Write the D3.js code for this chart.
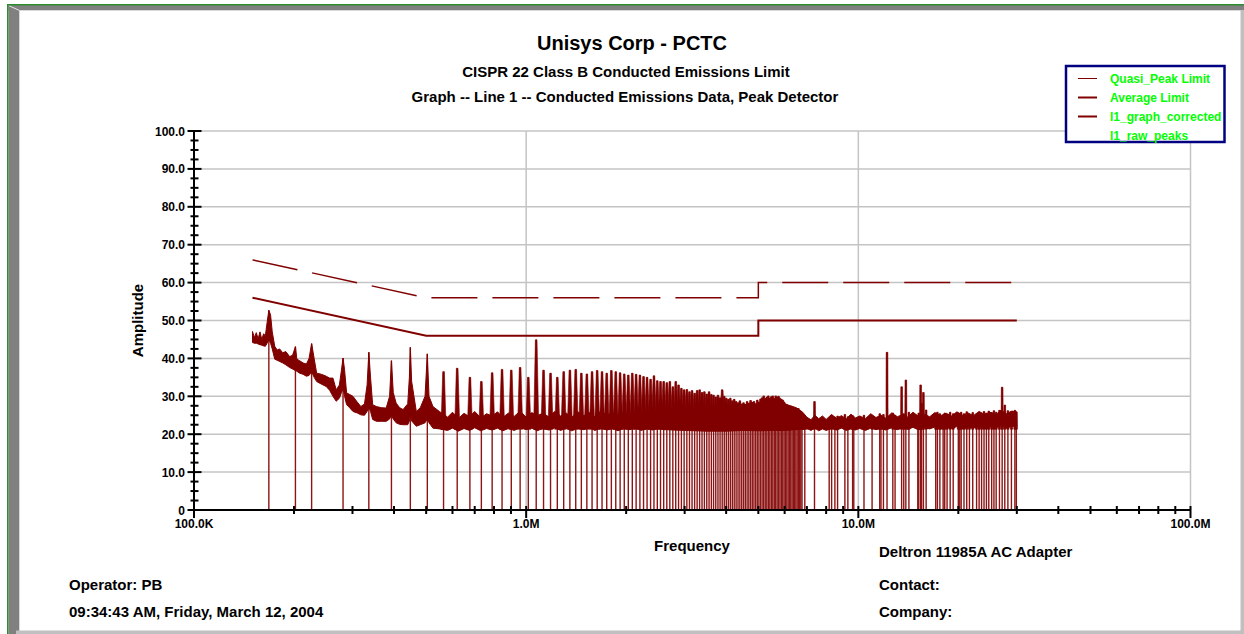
<!DOCTYPE html>
<html>
<head>
<meta charset="utf-8">
<script src="https://cdn.jsdelivr.net/npm/d3@7"></script>
<style>
body { margin: 0; background: #fff; }
text { font-family: Arial, "Liberation Sans", sans-serif; font-weight: bold; }
</style>
</head>
<body>
<svg id="chart" width="1244" height="634"></svg>
<script>

// limit lines, frequency in MHz, level in dBuV
var qpF = [0.15, 0.5, 5, 5, 30],
    qpV = [66, 56, 56, 60, 60];
var avF = [0.15, 0.5, 5, 5, 30],
    avV = [56, 46, 46, 50, 50];

// l1_graph_corrected: noise floor envelope (low / high edge)
var traceF = [0.150, 0.152, 0.154, 0.156, 0.158, 0.160, 0.162, 0.164, 0.166, 0.168, 0.170, 0.172, 0.175, 0.178,
    0.181, 0.185, 0.189, 0.194, 0.198, 0.202, 0.204, 0.208, 0.213, 0.218, 0.222, 0.226, 0.230, 0.234, 0.242,
    0.250, 0.256, 0.262, 0.268, 0.274, 0.278, 0.281, 0.284, 0.288, 0.294, 0.301, 0.310, 0.318, 0.326, 0.332,
    0.336, 0.340, 0.345, 0.354, 0.366, 0.379, 0.388, 0.393, 0.398, 0.406, 0.416, 0.426, 0.440, 0.445, 0.448,
    0.452, 0.467, 0.480, 0.496, 0.504, 0.510, 0.524, 0.548,
    0.58, 0.60, 0.625, 0.65, 0.675, 0.70, 0.73, 0.76, 0.79, 0.82, 0.85, 0.885, 0.92, 0.96, 1.0, 1.04, 1.08, 1.12,
    1.17, 1.22, 1.27, 1.32, 1.37, 1.43, 1.49, 1.55, 1.61, 1.68, 1.75, 1.82, 1.89, 1.97, 2.05, 2.13, 2.22, 2.31,
    2.40, 2.50, 2.60, 3.0, 3.5, 4.0, 4.5, 5.0, 5.5, 6.0, 6.5, 6.8,
    7.0, 7.2, 7.4, 7.6, 7.8, 8.0, 8.3, 8.6, 8.9, 9.2, 9.5, 9.8, 10.1, 10.5, 10.9, 11.3, 11.7, 12.1, 12.6, 13.1,
    13.6, 14.1, 14.6, 15.2, 15.8, 16.4, 17.0, 17.7, 18.4, 19.1, 19.8, 20.6, 21.4, 22.2, 23.1, 24.0, 24.9, 25.9,
    26.9, 27.9, 29.0, 30.0];
var traceLo = [44.2, 44.0, 44.0, 43.8, 43.6, 43.5, 43.3, 43.2, 44.0, 45.0, 44.0, 42.5, 39.8, 39.5,
    39.2, 38.8, 38.3, 37.6, 37.2, 36.8, 36.6, 36.1, 35.8, 35.3, 35.5, 36.5, 35.0, 33.9, 33.2,
    32.6, 31.6, 30.0, 28.7, 29.5, 31.0, 32.0, 30.0, 27.8, 27.0, 26.0, 25.6, 25.1, 25.0, 26.0,
    27.0, 26.0, 23.9, 23.4, 23.4, 23.4, 24.0, 25.0, 24.0, 23.0, 22.6, 22.5, 22.5, 23.5, 25.0,
    23.5, 22.1, 22.5, 23.0, 24.0, 23.0, 21.6, 21.4,
    21.0, 21.6, 20.8, 21.5, 21.0, 21.7, 20.9, 21.5, 21.1, 21.6, 20.9, 21.5, 21.0, 21.7, 21.2, 21.6, 20.9, 21.5,
    21.1, 21.7, 21.0, 21.6, 20.9, 21.5, 21.2, 21.7, 21.0, 21.6, 21.1, 21.5, 20.9, 21.6, 21.2, 21.7, 21.0, 21.5,
    21.1, 21.6, 21.2, 21.0, 20.8, 20.8, 21.0, 20.9, 21.0, 21.0, 21.2, 21.3,
    21.5, 21.0, 21.6, 20.9, 21.4, 21.0, 21.5, 21.1, 21.6, 21.0, 21.4, 21.1, 21.5, 21.0, 21.6, 21.2, 21.5, 21.1, 21.7, 21.2,
    21.6, 21.3, 21.8, 21.2, 21.7, 21.4, 21.9, 21.3, 21.8, 21.5, 22.0, 21.4, 21.9, 21.6, 22.1, 21.5, 22.0, 21.7,
    22.2, 21.6, 22.1, 22.0];
var traceHi = [47.1, 45.5, 46.8, 45.2, 47.0, 45.0, 46.5, 46.0, 49.5, 52.7, 51.5, 47.0, 43.2, 42.2,
    42.5, 41.5, 41.8, 40.5, 40.8, 43.1, 39.8, 39.4, 38.8, 38.5, 40.0, 43.9, 40.0, 36.1, 35.8,
    35.3, 34.8, 34.8, 31.7, 33.0, 37.0, 40.1, 37.0, 30.9, 30.5, 30.0, 28.5, 27.3, 28.0, 33.0,
    41.6, 35.0, 27.8, 27.3, 27.0, 26.9, 30.0, 39.4, 31.0, 28.2, 27.0, 26.5, 28.0, 35.0, 42.9,
    34.0, 26.0, 27.0, 30.0, 41.2, 30.0, 27.3, 26.0,
    24.5, 25.8, 24.2, 25.5, 24.6, 26.0, 24.3, 25.4, 24.8, 25.9, 24.4, 25.6, 24.7, 26.1, 24.5, 25.7, 24.9, 25.5,
    24.6, 26.0, 24.8, 25.6, 24.4, 25.9, 24.9, 25.7, 24.6, 26.2, 25.0, 25.8, 24.7, 26.0, 25.1, 25.9, 24.8, 26.3,
    25.2, 26.0, 26.0, 26.5, 27.0, 27.5, 27.8, 28.0, 28.5, 28.0, 27.0, 25.8,
    24.5, 23.8, 25.0, 24.1, 24.8, 23.9, 25.2, 24.2, 24.9, 24.0, 25.3, 24.3, 24.8, 24.1, 25.4, 24.4, 25.0, 24.2, 25.6, 24.6,
    25.2, 24.5, 25.8, 24.7, 25.3, 24.6, 25.7, 24.9, 25.5, 24.8, 25.9, 25.0, 25.6, 24.9, 26.0, 25.2, 25.8, 25.1,
    26.3, 25.4, 26.1, 25.8];

// l1_raw_peaks below 0.55 MHz
var lowRawF = [0.168, 0.202, 0.226, 0.281, 0.336, 0.393, 0.448, 0.504],
    lowRawA = [52.7, 43.1, 43.9, 40.1, 41.6, 39.4, 42.9, 41.2];

// switching harmonics 0.56 - 6.8 MHz (peak frequency, peak level)
var harmF = [0.564, 0.620, 0.677, 0.733, 0.790, 0.846, 0.902, 0.959, 1.015, 1.072,
    1.128, 1.184, 1.241, 1.297, 1.354, 1.410, 1.466, 1.523, 1.579, 1.636,
    1.692, 1.748, 1.805, 1.861, 1.918, 1.974, 2.030, 2.087, 2.143, 2.200,
    2.256, 2.312, 2.369, 2.425, 2.482, 2.538, 2.594, 2.651, 2.707, 2.764,
    2.820, 2.876, 2.933, 2.989, 3.046, 3.102, 3.158, 3.215, 3.271, 3.328,
    3.384, 3.440, 3.497, 3.553, 3.610, 3.666, 3.722, 3.779, 3.835, 3.892,
    3.948, 4.004, 4.061, 4.117, 4.174, 4.230, 4.286, 4.343, 4.399, 4.456,
    4.512, 4.568, 4.625, 4.681, 4.738, 4.794, 4.850, 4.907, 4.963, 5.020,
    5.076, 5.132, 5.189, 5.245, 5.302, 5.358, 5.414, 5.471, 5.527, 5.584,
    5.640, 5.696, 5.753, 5.809, 5.866, 5.922, 5.978, 6.035, 6.091, 6.148,
    6.204, 6.260, 6.317, 6.373, 6.430, 6.486, 6.542, 6.599, 6.655, 6.712, 6.768];
var harmA = [36.5, 37.4, 35.0, 33.9, 36.2, 37.1, 36.9, 37.6, 35.0, 44.9,
    36.9, 36.1, 35.0, 36.5, 36.9, 37.1, 36.1, 35.9, 36.5, 36.8,
    36.5, 36.1, 36.8, 36.5, 36.2, 35.9, 35.6, 36.1, 35.8, 35.6,
    35.2, 35.0, 34.5, 35.4, 34.1, 33.9, 33.9, 33.6, 33.9, 32.5,
    33.9, 33.0, 32.1, 31.7, 31.8, 31.2, 31.5, 30.8, 31.5, 31.7,
    31.0, 31.2, 30.6, 31.2, 30.5, 30.3, 29.8, 30.3, 29.6, 31.7,
    30.0, 29.5, 29.2, 29.5, 28.8, 29.2, 28.6, 28.3, 28.8, 28.0,
    28.3, 27.8, 28.6, 28.2, 28.9, 28.4, 28.6, 28.0, 29.0, 28.5,
    29.3, 29.6, 30.1, 29.4, 29.8, 30.1, 29.5, 29.9, 30.1, 29.4,
    30.1, 29.8, 30.0, 29.5, 29.2, 29.0, 28.5, 28.0, 27.8, 27.5,
    27.2, 27.4, 26.9, 27.1, 26.7, 26.8, 26.5, 26.8, 26.2, 25.9, 25.6];

// raw peaks above 6.8 MHz
var hfRawF = [6.90, 7.38, 8.17, 8.31, 8.50, 8.66, 9.11, 9.30, 9.61, 9.69,
    10.4, 11.0, 11.6, 11.7, 11.9, 12.2, 12.7, 12.9, 13.5, 13.7, 13.9, 14.2,
    15.1, 15.2, 15.4, 15.5, 15.7, 16.0, 17.1, 17.3, 17.6, 18.0, 18.2, 18.5, 18.9, 19.3,
    20.0, 20.2, 20.4, 20.8, 21.2, 21.6, 22.1, 22.7, 23.1, 23.5, 23.9, 24.3, 24.7,
    25.2, 25.6, 26.0, 26.6, 27.1, 27.6, 28.2, 28.9, 29.6, 29.9];
var hfRawA = [24.5, 28.6, 24.0, 25.0, 24.5, 24.8, 25.2, 24.6, 24.9, 24.2,
    25.0, 24.6, 25.4, 24.8, 25.2, 41.6, 25.6, 25.0, 32.5, 25.4, 34.3, 25.8,
    25.0, 25.6, 33.0, 28.1, 31.0, 26.4, 25.2, 25.8, 25.4, 25.0, 25.6, 25.2, 25.8, 25.4,
    25.6, 25.0, 25.8, 25.4, 25.9, 25.2, 25.7, 25.3, 25.8, 25.5, 26.0, 25.6, 26.1,
    25.7, 26.2, 25.8, 26.3, 32.4, 27.7, 26.2, 26.0, 26.3, 25.9];

var floorLevel = 21.3;

var yTicks = [0, 10, 20, 30, 40, 50, 60, 70, 80, 90, 100];
var xMajor = [0.1, 1, 10, 100],
    xLabels = ["100.0K", "1.0M", "10.0M", "100.0M"];

var legendNames = ["Quasi_Peak Limit", "Average Limit", "l1_graph_corrected", "l1_raw_peaks"],
    legendWidth = [1, 2, 2, 0];

var red = "#800000";

var svg = d3.select("#chart");

// window frame
svg.append("rect").attr("x", 8.5).attr("y", 5).attr("width", 1236).attr("height", 5.5).attr("fill", "#808080");
svg.append("rect").attr("x", 8.5).attr("y", 5).attr("width", 11).attr("height", 629).attr("fill", "#808080");
svg.append("line").attr("x1", 8.5).attr("y1", 5.5).attr("x2", 19.5).attr("y2", 10.5).attr("stroke", "#e8e8e8").attr("stroke-width", 1);
svg.append("line").attr("x1", 19.5).attr("y1", 10.5).attr("x2", 19.5).attr("y2", 634).attr("stroke", "#d8d8d8").attr("stroke-width", 1);
svg.append("line").attr("x1", 19.5).attr("y1", 10.5).attr("x2", 1241).attr("y2", 10.5).attr("stroke", "#d8d8d8").attr("stroke-width", 1);
svg.append("rect").attr("x", 1240.5).attr("y", 10).attr("width", 3.5).attr("height", 624).attr("fill", "#c0c0c0");
svg.append("rect").attr("x", 16).attr("y", 630.5).attr("width", 1228).attr("height", 3.5).attr("fill", "#c0c0c0");
svg.append("rect").attr("x", 7).attr("y", 4).attr("width", 1237).attr("height", 1.5).attr("fill", "#2e8b2e");
svg.append("rect").attr("x", 7).attr("y", 4).attr("width", 1.5).attr("height", 630).attr("fill", "#2e8b2e");

var xs = d3.scaleLog().domain([0.1, 100]).range([194, 1190.5]);
var ys = d3.scaleLinear().domain([0, 100]).range([510, 131]);

// titles
svg.append("text").attr("x", 632).attr("y", 50).attr("text-anchor", "middle")
    .style("font-size", "20px").text("Unisys Corp - PCTC");
svg.append("text").attr("x", 626).attr("y", 77).attr("text-anchor", "middle")
    .style("font-size", "15px").text("CISPR 22 Class B Conducted Emissions Limit");
svg.append("text").attr("x", 625).attr("y", 102).attr("text-anchor", "middle")
    .style("font-size", "15px").text("Graph -- Line 1 -- Conducted Emissions Data, Peak Detector");

// grid
var grid = svg.append("g").attr("stroke", "#c4c4c4").attr("stroke-width", 1.5);
yTicks.slice(1).forEach(function(v) {
    grid.append("line").attr("x1", xs(0.1)).attr("x2", xs(100)).attr("y1", ys(v)).attr("y2", ys(v));
});
xMajor.slice(1).forEach(function(f) {
    grid.append("line").attr("x1", xs(f)).attr("x2", xs(f)).attr("y1", ys(100)).attr("y2", ys(0));
});

// limits
var idxLine = function(F, V) {
    return d3.line().x(function(i) { return xs(F[i]); }).y(function(i) { return ys(V[i]); })(d3.range(F.length));
};
svg.append("path").attr("d", idxLine(qpF, qpV)).attr("fill", "none").attr("stroke", red)
    .attr("stroke-width", 1.5).attr("stroke-dasharray", "46,15");
svg.append("path").attr("d", idxLine(avF, avV)).attr("fill", "none").attr("stroke", red)
    .attr("stroke-width", 2);

// raw peaks as sticks
var sticks = [];
lowRawF.forEach(function(f, i) { sticks.push([f, lowRawA[i]]); });
harmF.forEach(function(f, i) { sticks.push([f, harmA[i]]); });
hfRawF.forEach(function(f, i) { sticks.push([f, hfRawA[i]]); });

svg.append("g").selectAll("line").data(sticks).enter().append("line")
    .attr("x1", function(d) { return xs(d[0]); })
    .attr("x2", function(d) { return xs(d[0]); })
    .attr("y1", ys(0))
    .attr("y2", function(d) { return ys(d[1]); })
    .attr("stroke", "#8c1414")
    .attr("stroke-width", 1.4);

// corrected trace
var area = d3.area()
    .x(function(i) { return xs(traceF[i]); })
    .y0(function(i) { return ys(traceLo[i]); })
    .y1(function(i) { return ys(traceHi[i]); });
svg.append("path").attr("d", area(d3.range(traceF.length)))
    .attr("fill", red).attr("stroke", red).attr("stroke-width", 1).attr("stroke-linejoin", "round");

// peak bumps on the trace
var bumps = sticks.filter(function(d) { return d[0] > 0.55; });
svg.append("g").selectAll("path").data(bumps).enter().append("path")
    .attr("d", function(d) {
        var x = xs(d[0]), hw = d[0] < 7 ? 2.6 : 1.1, top = ys(d[1]), base = ys(floorLevel);
        return "M" + (x - hw) + "," + base + "L" + (x - 0.8) + "," + top + "L" + (x + 0.8) + "," + top + "L" + (x + hw) + "," + base + "Z";
    })
    .attr("fill", red).attr("stroke", red).attr("stroke-width", 0.6);

// axes
var ax = svg.append("g").attr("stroke", "#000");
ax.append("line").attr("x1", xs(0.1)).attr("x2", xs(0.1)).attr("y1", ys(100)).attr("y2", ys(0) + 1).attr("stroke-width", 2);
ax.append("line").attr("x1", xs(0.1)).attr("x2", xs(100)).attr("y1", ys(0)).attr("y2", ys(0)).attr("stroke-width", 2);

d3.range(0, 100.1, 2.5).forEach(function(v) {
    var major = v % 10 === 0;
    ax.append("line").attr("x1", major ? 187.5 : 190.5).attr("x2", major ? 201.5 : 198.5)
        .attr("y1", ys(v)).attr("y2", ys(v)).attr("stroke-width", 2);
});
xs.ticks().forEach(function(f) {
    var major = xMajor.indexOf(f) >= 0;
    ax.append("line").attr("x1", xs(f)).attr("x2", xs(f))
        .attr("y1", ys(0) - 4).attr("y2", ys(0) + (major ? 8 : 4)).attr("stroke-width", 2);
});

svg.append("g").selectAll("text").data(yTicks).enter().append("text")
    .attr("x", 185).attr("y", function(d) { return ys(d) + 4.5; })
    .attr("text-anchor", "end").style("font-size", "12px")
    .text(function(d) { return d === 0 ? "0" : d.toFixed(1); });

svg.append("g").selectAll("text").data(xMajor).enter().append("text")
    .attr("x", function(d) { return xs(d); }).attr("y", 528)
    .attr("text-anchor", "middle").style("font-size", "12px")
    .text(function(d, i) { return xLabels[i]; });

svg.append("text").attr("transform", "translate(142.5,320.5) rotate(-90)")
    .attr("text-anchor", "middle").style("font-size", "15px").text("Amplitude");
svg.append("text").attr("x", 692).attr("y", 551)
    .attr("text-anchor", "middle").style("font-size", "15px").text("Frequency");

// footer
var foot = [
    [879, 557, "Deltron 11985A AC Adapter"],
    [69, 589.5, "Operator: PB"],
    [879, 589.5, "Contact:"],
    [69, 616.5, "09:34:43 AM, Friday, March 12, 2004"],
    [879, 616.5, "Company:"]
];
svg.append("g").selectAll("text").data(foot).enter().append("text")
    .attr("x", function(d) { return d[0]; }).attr("y", function(d) { return d[1]; })
    .style("font-size", "15px").text(function(d) { return d[2]; });

// legend
var lg = svg.append("g");
lg.append("rect").attr("x", 1066).attr("y", 66).attr("width", 158.5).attr("height", 76)
    .attr("fill", "#fff").attr("stroke", "#000080").attr("stroke-width", 2.5);
legendNames.forEach(function(name, i) {
    var y = 78.5 + i * 19;
    if (legendWidth[i] > 0) {
        lg.append("line").attr("x1", 1078).attr("x2", 1097).attr("y1", y).attr("y2", y)
            .attr("stroke", red).attr("stroke-width", legendWidth[i]);
    }
    lg.append("text").attr("x", 1110).attr("y", y + 4.3).attr("fill", "#00ff00")
        .style("font-size", "12px").text(name);
});

</script>
</body>
</html>
